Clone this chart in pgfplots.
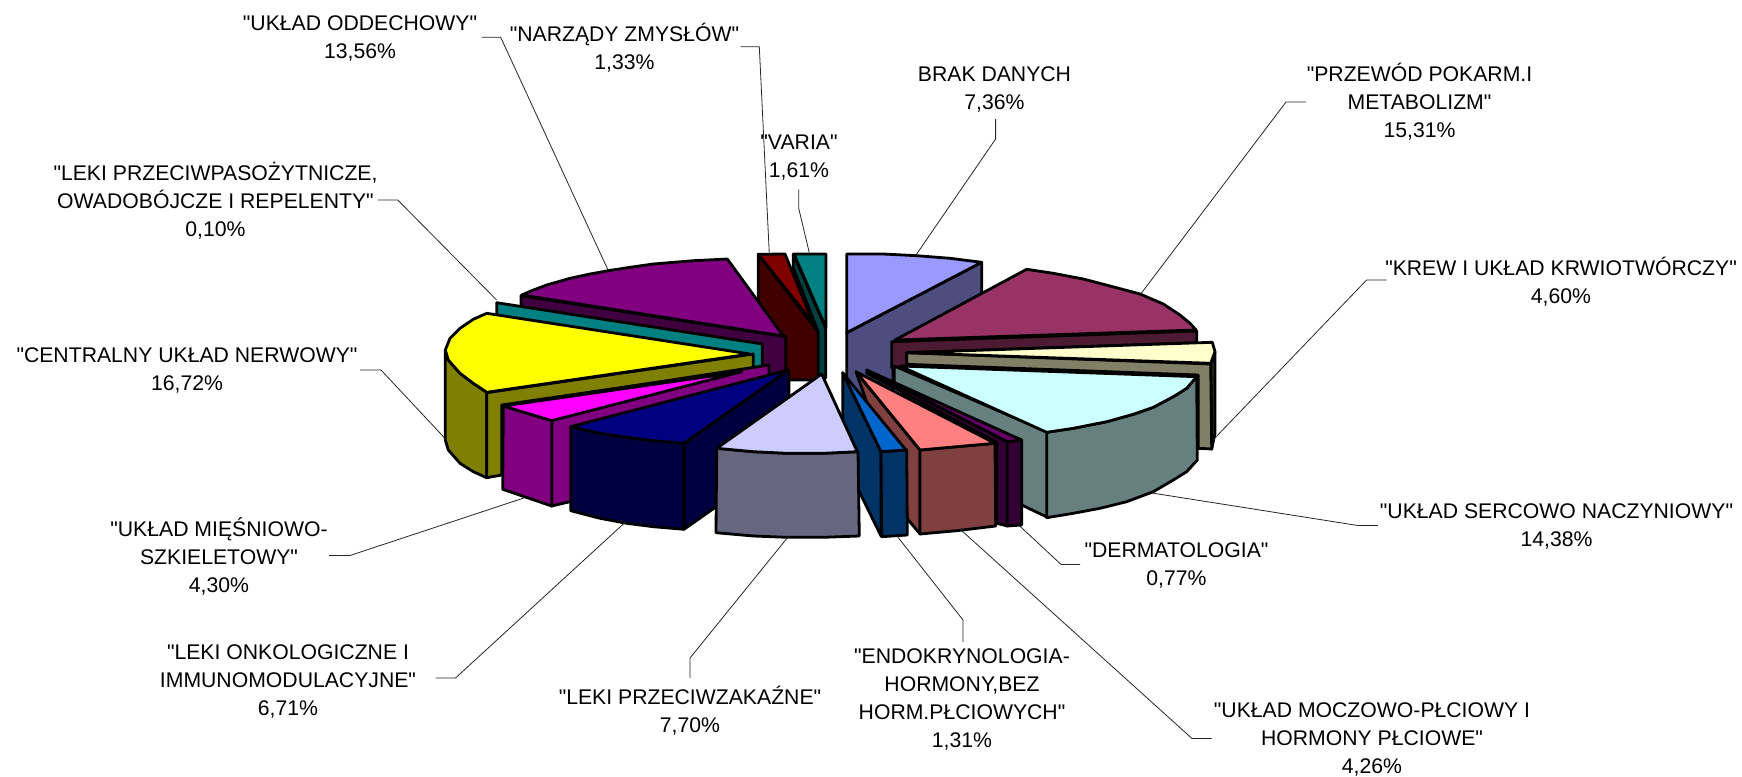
\documentclass[border=0pt]{standalone}
\usepackage{pgfplots}
\pgfplotsset{compat=1.18}
\usepackage{fontspec}
\newfontfamily\lf{Liberation Sans}
\definecolor{pYellow}{rgb}{1,1,0}\definecolor{pMagenta}{rgb}{1,0,1}
\definecolor{pPurple}{HTML}{800080}\definecolor{pPurpleD}{HTML}{400040}
\definecolor{pTeal}{HTML}{008080}\definecolor{pTealD}{HTML}{004040}
\definecolor{pMaroon}{HTML}{800000}\definecolor{pMaroonD}{HTML}{400000}
\definecolor{pOlive}{HTML}{808000}
\definecolor{pNavy}{HTML}{000080}\definecolor{pNavyD}{HTML}{000040}
\definecolor{pLilac}{HTML}{CCCCFF}\definecolor{pLilacD}{HTML}{666680}
\definecolor{pBrak}{HTML}{9999FF}\definecolor{pBrakD}{HTML}{4D4D80}
\definecolor{pBurg}{HTML}{993366}\definecolor{pBurgD}{HTML}{4D1A33}
\definecolor{pCream}{HTML}{FFFFCC}\definecolor{pCreamD}{HTML}{808066}\definecolor{pCreamE}{HTML}{33331A}
\definecolor{pCyan}{HTML}{CCFFFF}\definecolor{pCyanD}{HTML}{668080}
\definecolor{pDerm}{HTML}{660066}\definecolor{pDermD}{HTML}{330033}
\definecolor{pPink}{HTML}{FF8080}\definecolor{pPinkD}{HTML}{804040}
\definecolor{pBlue}{HTML}{0066CC}\definecolor{pBlueD}{HTML}{003366}
\pgfplotsset{
  face/.style={fill=#1,draw=black,line width=1.4pt,line join=round,mark=none},
  lead/.style={draw=black!85,line width=0.4pt,mark=none,line join=miter}
}
\tikzset{lab/.style={font=\fontsize{10.6}{14}\selectfont\lf,align=center,inner sep=0pt,text=black,yshift=-0.5pt}}
\begin{document}
\begin{tikzpicture}
\path[use as bounding box] (0,0) rectangle (871pt,388.5pt);
\begin{axis}[at={(0,0)},anchor=south west,scale only axis,width=871pt,height=388.5pt,hide axis,
  xmin=0,xmax=1742,ymin=0,ymax=777,y dir=reverse,clip=false]
% NARZADY ZMYSLOW
\addplot[face=pMaroonD] coordinates {(758.3,254.3)(818.3,332.3)(818.3,380)(758.3,380)} --cycle;
\addplot[face=pMaroon] coordinates {(758.3,254.3)(785,254)(813.3,323.3)} --cycle;
% VARIA
\addplot[face=pTealD] coordinates {(793.3,254)(825.7,328)(825.7,378)(818.3,378)(818.3,332.3)(793.3,268)} --cycle;
\addplot[face=pTeal] coordinates {(794,254)(826,254)(826,328)} --cycle;
% UKLAD ODDECHOWY
\addplot[face=pPurpleD] coordinates {(521,295.7)(785.7,336.7)(785.7,380)(521,330)} --cycle;
\addplot[face=pPurple] coordinates {(521.7,295)(531.7,290.7)(546.7,285)(570,278.3)(590,274)(608.3,270.7)(630,267.3)(653.3,264)(693.3,260.7)(727.3,259)(783.3,336)} --cycle;
% LEKI PRZECIWPASOZYTNICZE
\addplot[face=pTeal] coordinates {(496.7,302.7)(762.3,344)(762.3,372)(496.7,318)} --cycle;
% CENTRALNY UKLAD NERWOWY
\addplot[face=pOlive] coordinates {(445.3,350)(445.3,440)(448.3,450)(460,463.3)(473.3,471.7)(486.7,477.7)(486.7,392.3)(473.3,383.3)(460,373.3)(448.3,360)} --cycle;
\addplot[face=pOlive] coordinates {(486.7,392.7)(753.3,354)(753.3,368.3)(501.7,405)(501.7,475)(486.7,477.7)} --cycle;
\addplot[face=pYellow] coordinates {(486.7,313.3)(473.3,319.3)(460,328.3)(450,338.3)(445.3,350)(448.3,360)(460,373.3)(473.3,383.3)(486.7,392.3)(750,354)} --cycle;
% UKLAD MIESNIOWO-SZKIELETOWY
\addplot[face=pPurple] coordinates {(503.3,406)(769,365)(769,376.7)(575,440)(575,500.5)(551.7,506)(551.7,420.7)} --cycle;
\addplot[face=pPurple] coordinates {(503.3,406)(551.7,420.7)(551.7,506)(502.7,489.3)} --cycle;
\addplot[face=pMagenta] coordinates {(503.3,406)(741.7,371.7)(551.7,420.7)} --cycle;
% LEKI ONKOLOGICZNE
\addplot[face=pNavyD] coordinates {(684,443.3)(789,370)(789,400)(730,440)(730,497)(684,529.3)} --cycle;
\addplot[face=pNavyD] coordinates {(570.7,426.7)(600,433.3)(626.7,437.3)(653.3,440.7)(684,443.3)(684,529.3)(653.3,526.7)(626.7,523.3)(600,518.3)(570.7,510.7)} --cycle;
\addplot[face=pNavy] coordinates {(570.7,426.7)(600,433.3)(626.7,437.3)(653.3,440.7)(684,443.3)(788.3,370)} --cycle;
% BRAK DANYCH
\addplot[face=pBrakD] coordinates {(846.7,332.7)(981.7,262.3)(981.7,295)(893,342)(893,420)(846.7,400)} --cycle;
\addplot[face=pBrak] coordinates {(846.7,254)(883.3,254)(916.7,255.7)(950,258.3)(981.7,262.3)(846.7,332.7)} --cycle;
% PRZEWOD POKARM.
\addplot[face=pBurgD] coordinates {(891.7,341.7)(1196.7,331)(1196.7,342.7)(906.7,352.7)(906.7,368)(891.7,368)} --cycle;
\addplot[face=pBurg] coordinates {(1026.7,269.3)(1053.3,273.3)(1083.3,279)(1110,286)(1140,294)(1163.3,304)(1180,315)(1190,323.3)(1196,330)(895,340)} --cycle;
% KREW
\addplot[face=pCreamE] coordinates {(1210.7,364)(1215,352)(1215,433.3)(1211.7,449)} --cycle;
\addplot[face=pCreamD] coordinates {(906.7,352.7)(1210.7,364)(1211.7,449)(1198.3,448.3)(1198.3,375)(906.7,364.3)} --cycle;
\addplot[face=pCream] coordinates {(906.7,352.7)(1212.3,342.3)(1215,351.7)(1210.7,363.3)} --cycle;
% SERCOWO NACZYNIOWY
\addplot[face=pCyanD] coordinates {(894.3,366)(1048.3,432.3)(1048.3,517.7)(1021.7,505)(894.3,385)} --cycle;
\addplot[face=pCyanD] coordinates {(1046.7,432.3)(1073.3,428.3)(1106.7,421.7)(1133.3,414.3)(1153.3,407.3)(1173.3,396.7)(1186.7,388.3)(1196.7,376.7)(1197.3,460)(1186.7,471.7)(1173.3,480)(1153.3,491.7)(1126.7,501.7)(1100,508.3)(1073.3,513.3)(1046.7,517.7)} --cycle;
\addplot[face=pCyan] coordinates {(900,366)(1196.7,376.7)(1186.7,388.3)(1173.3,396.7)(1153.3,407.3)(1133.3,414.3)(1106.7,421.7)(1073.3,428.3)(1046.7,432.3)} --cycle;
% DERMATOLOGIA
\addplot[face=pDermD] coordinates {(866.7,370)(1007.3,441.7)(1007.3,526)(996.7,523.3)(996.7,442.3)(866.7,373.3)} --cycle;
\addplot[face=pDermD] coordinates {(1007.3,441.7)(1021.7,440)(1021.7,525)(1007.3,526)} --cycle;
\addplot[face=pDerm] coordinates {(866.7,370)(1021.7,440)(1007.3,441.7)} --cycle;
% MOCZOWO-PLCIOWY
\addplot[face=pPinkD] coordinates {(856,371.7)(920,450)(920,534)(908.3,520)} --cycle;
\addplot[face=pPinkD] coordinates {(920,450)(956.7,446.7)(995,443.3)(995.7,526)(956.7,530.7)(920,534)} --cycle;
\addplot[face=pPink] coordinates {(856,371.7)(995,443.3)(956.7,446.7)(920,450)} --cycle;
% ENDOKRYNOLOGIA
\addplot[face=pBlueD] coordinates {(842.7,372.7)(881,451.7)(881,536)(859.3,491.7)(842.7,456.7)} --cycle;
\addplot[face=pBlueD] coordinates {(881,451.7)(906.7,450)(907.3,535)(881.7,536.7)} --cycle;
\addplot[face=pBlue] coordinates {(842.7,372.7)(881,451.7)(906,450)} --cycle;
% LEKI PRZECIWZAKAZNE
\addplot[face=pLilacD] coordinates {(716.7,448.3)(753.3,451.7)(786.7,453.3)(823.3,453.3)(858,451.7)(859.3,536)(823.3,537.3)(786.7,537.3)(753.3,536)(716,532.7)} --cycle;
\addplot[face=pLilac] coordinates {(821.7,374)(716.7,448.3)(753.3,451.7)(786.7,453.3)(823.3,453.3)(857.3,451.7)} --cycle;
% leader lines
\addplot[lead] coordinates {(481.7,37.3)(500.7,37.3)(608,270)};
\addplot[lead] coordinates {(740.7,46.7)(759.3,46.7)(769.3,254)};
\addplot[lead] coordinates {(798.7,189.3)(798.7,208.3)(809.3,252.7)};
\addplot[lead] coordinates {(995.6,119)(995.6,139)(916,255)};
\addplot[lead] coordinates {(1306,102)(1286,102)(1141.5,293)};
\addplot[lead] coordinates {(1386.6,280)(1366.6,280)(1213,440)};
\addplot[lead] coordinates {(1377.8,525.5)(1357.8,525.5)(1152,493)};
\addplot[lead] coordinates {(1080,564.4)(1061,564.4)(1018,524.4)};
\addplot[lead] coordinates {(1211.7,738.5)(1192,738.5)(961,530)};
\addplot[lead] coordinates {(963,642)(963,620)(897,536)};
\addplot[lead] coordinates {(690,678)(690,658)(788,537)};
\addplot[lead] coordinates {(435.5,678)(455.5,678)(625.5,522)};
\addplot[lead] coordinates {(329,555.5)(350,555.5)(524.4,497.8)};
\addplot[lead] coordinates {(360,370)(381,370)(445.5,438.9)};
\addplot[lead] coordinates {(377.8,200)(397.8,200)(496.6,300)};
% labels
\node[lab] at (axis cs:360,37) {"UKŁAD ODDECHOWY"\\13,56\%};
\node[lab] at (axis cs:624.5,47) {"NARZĄDY ZMYSŁÓW"\\1,33\%};
\node[lab] at (axis cs:799,157) {"VARIA"\\1,61\%};
\node[lab] at (axis cs:994.5,88) {BRAK DANYCH\\7,36\%};
\node[lab] at (axis cs:1419.5,101) {"PRZEWÓD POKARM.I\\METABOLIZM"\\15,31\%};
\node[lab] at (axis cs:1561,280.5) {"KREW I UKŁAD KRWIOTWÓRCZY"\\4,60\%};
\node[lab] at (axis cs:1556.5,525.5) {"UKŁAD SERCOWO NACZYNIOWY"\\14,38\%};
\node[lab] at (axis cs:1176.5,564) {"DERMATOLOGIA"\\0,77\%};
\node[lab] at (axis cs:1372,738.5) {"UKŁAD MOCZOWO-PŁCIOWY I\\HORMONY PŁCIOWE"\\4,26\%};
\node[lab] at (axis cs:962,698) {"ENDOKRYNOLOGIA-\\HORMONY,BEZ\\HORM.PŁCIOWYCH"\\1,31\%};
\node[lab] at (axis cs:690,710) {"LEKI PRZECIWZAKAŹNE"\\7,70\%};
\node[lab] at (axis cs:288,680) {"LEKI ONKOLOGICZNE I\\IMMUNOMODULACYJNE"\\6,71\%};
\node[lab] at (axis cs:219,555.5) {"UKŁAD MIĘŚNIOWO-\\SZKIELETOWY"\\4,30\%};
\node[lab] at (axis cs:187,369) {"CENTRALNY UKŁAD NERWOWY"\\16,72\%};
\node[lab] at (axis cs:215.5,200) {"LEKI PRZECIWPASOŻYTNICZE,\\OWADOBÓJCZE I REPELENTY"\\0,10\%};
\end{axis}
\end{tikzpicture}
\end{document}
